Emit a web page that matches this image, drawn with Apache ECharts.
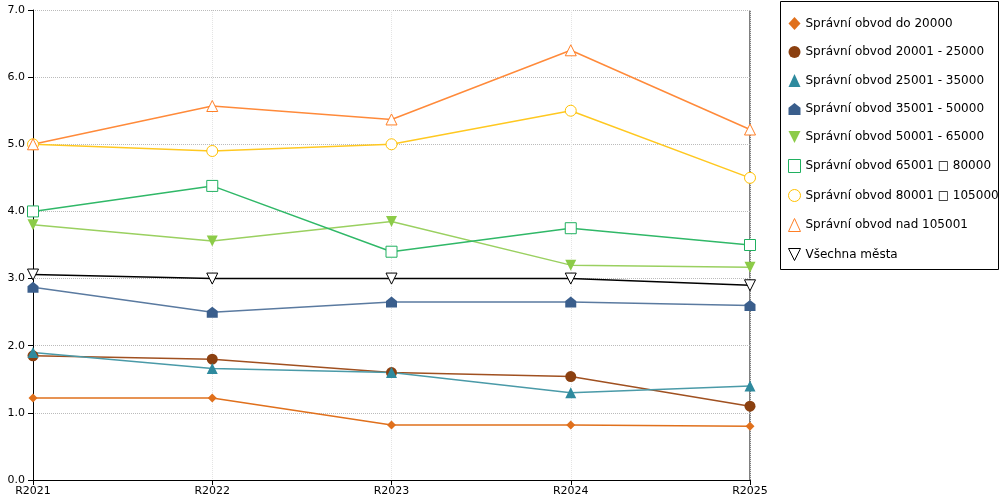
<!DOCTYPE html><html><head><meta charset="utf-8"><script src="https://cdn.jsdelivr.net/npm/echarts@6/dist/echarts.min.js"></script></head><body style="margin:0"><div id="c" style="width:1000px;height:500px"></div><script>
const categories=['R2021','R2022','R2023','R2024','R2025'];
const names=['Správní obvod do 20000','Správní obvod 20001 - 25000','Správní obvod 25001 - 35000','Správní obvod 35001 - 50000','Správní obvod 50001 - 65000','Správní obvod 65001 □ 80000','Správní obvod 80001 □ 105000','Správní obvod nad 105001','Všechna města'];
const s1=[1.22,1.22,0.82,0.82,0.80];
const s2=[1.85,1.80,1.60,1.54,1.10];
const s3=[1.90,1.66,1.60,1.30,1.40];
const s4=[2.87,2.50,2.65,2.65,2.60];
const s5=[3.80,3.56,3.85,3.20,3.17];
const s6=[4.00,4.38,3.40,3.75,3.50];
const s7=[5.00,4.90,5.00,5.50,4.50];
const s8=[5.00,5.57,5.37,6.40,5.22];
const s9=[3.06,3.00,3.00,3.00,2.90];
const data=[s1,s2,s3,s4,s5,s6,s7,s8,s9];
const colors=['#E0701C','#8B4010','#2E8A9E','#3A5E8C','#8CCB48','#20B060','#FFC000','#FF7F27','#000000'];
const lineColors=['#E0701C','#A05020','#4A9AA8','#5A7AA0','#9AD060','#30B868','#FFC820','#FF8A3A','#000000'];
const house='path://M5,0 L10,4 L10,10 L0,10 L0,4 Z';
const symbols=['diamond','circle','triangle',house,'path://M0,0 L10,0 L5,10 Z','rect','circle','triangle','path://M0,0 L10,0 L5,10 Z'];
const hollow=[false,false,false,false,false,true,true,true,true];
const series=data.map((d,i)=>({name:names[i],type:'line',data:d,symbol:symbols[i],symbolSize:hollow[i]?11:(i==0?9:11),
 lineStyle:{color:lineColors[i],width:1.5},
 itemStyle:hollow[i]?{color:'#fff',borderColor:colors[i],borderWidth:1}:{color:colors[i],borderWidth:0},
 emphasis:{disabled:true}}));
const ch=echarts.init(document.getElementById('c'));
ch.setOption({animation:false,color:colors,
 textStyle:{fontFamily:'DejaVu Sans'},
 grid:{left:33,right:250,top:10,bottom:20},
 graphic:[{type:'rect',shape:{x:780.5,y:1.5,width:218,height:268},style:{fill:'#fff',stroke:'#000',lineWidth:1},z:-1},
 {type:'line',shape:{x1:750,y1:10,x2:750,y2:480},style:{stroke:'#000',lineWidth:1}}],
 legend:{orient:'vertical',left:783,top:12,itemGap:16,itemWidth:12,itemHeight:13,
  textStyle:{fontSize:12,color:'#000',fontFamily:'DejaVu Sans'},
  itemStyle:{borderWidth:1},
  data:names.map((n,i)=>({name:n,icon:symbols[i]}))},
 xAxis:{type:'category',data:categories,boundaryGap:false,
  axisLine:{lineStyle:{color:'#000'}},axisTick:{show:true,length:5,lineStyle:{color:'#000'}},
  axisLabel:{color:'#000',fontSize:11,margin:6},
  splitLine:{show:true,lineStyle:{color:'#e4e4e4',type:'dotted'}}},
 yAxis:{type:'value',min:0,max:7,interval:1,
  axisLine:{show:true,lineStyle:{color:'#000'}},axisTick:{show:true,length:5,lineStyle:{color:'#000'}},
  axisLabel:{color:'#000',fontSize:11,formatter:v=>v.toFixed(1)},
  splitLine:{lineStyle:{color:'#bbb',type:'dotted'}}},
 series});
</script></body></html>
